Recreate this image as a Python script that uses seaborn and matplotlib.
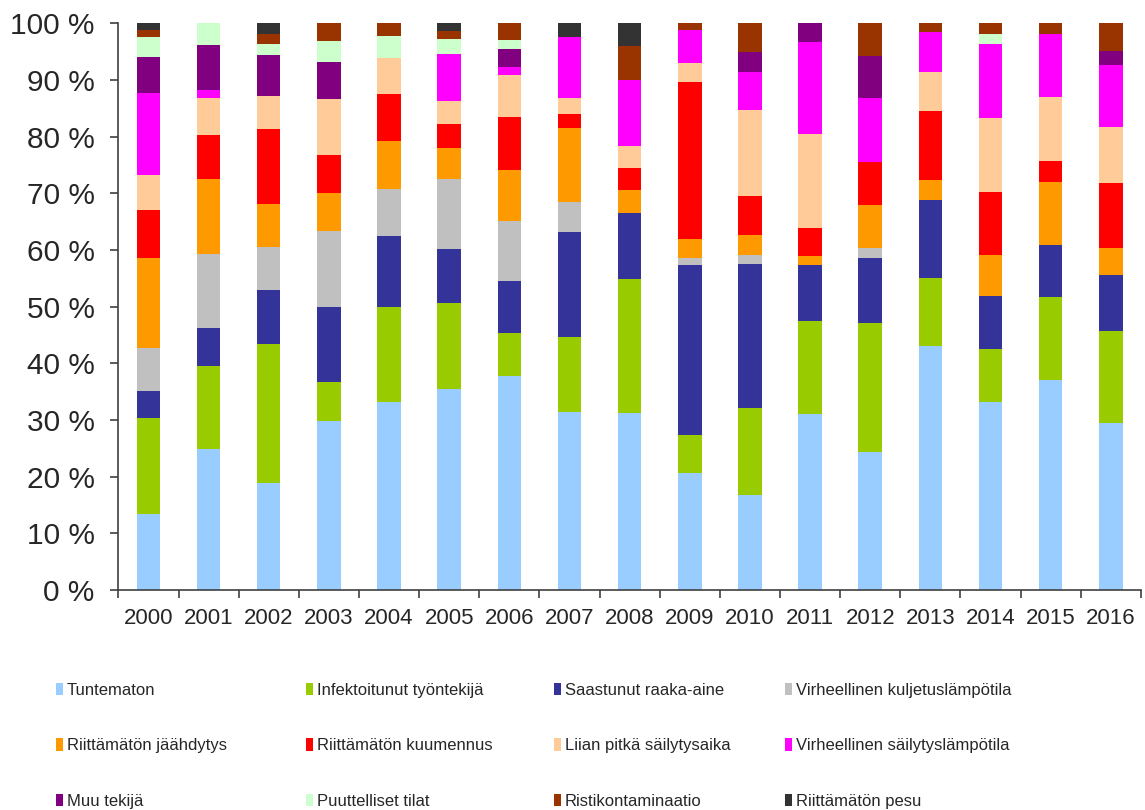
import matplotlib
matplotlib.use("Agg")
import matplotlib.pyplot as plt
from matplotlib.patches import Patch
import pandas as pd
import seaborn as sns

years = [str(y) for y in range(2000, 2017)]

# osuudet (%) vuosittain, luettu kuvasta
tuntematon = [13.4, 24.9, 18.9, 29.9, 33.2, 35.5, 37.8, 31.5, 31.3, 20.7, 16.8, 31.1, 24.4, 43.1, 33.2, 37.1, 29.4]
infektoitunut = [17.0, 14.5, 24.5, 6.8, 16.8, 15.2, 7.6, 13.1, 23.5, 6.7, 15.4, 16.3, 22.8, 11.9, 9.4, 14.7, 16.2]
saastunut = [4.8, 6.7, 9.6, 13.3, 12.5, 9.4, 9.2, 18.5, 11.8, 29.9, 25.4, 9.9, 11.3, 13.9, 9.2, 9.2, 9.9]
virh_kuljetus = [7.5, 13.1, 7.5, 13.3, 8.2, 12.4, 10.6, 5.3, 0, 1.2, 1.5, 0, 1.8, 0, 0, 0, 0]
jaahdytys = [15.8, 13.1, 7.6, 6.7, 8.5, 5.5, 9.0, 13.1, 3.9, 3.4, 3.5, 1.6, 7.6, 3.4, 7.4, 11.0, 4.8]
kuumennus = [8.5, 7.9, 13.2, 6.8, 8.3, 4.2, 9.2, 2.5, 3.9, 27.7, 7.0, 4.9, 7.6, 12.2, 11.0, 3.8, 11.3]
sailytysaika = [6.2, 6.5, 5.8, 9.8, 6.3, 4.1, 7.5, 2.8, 3.9, 3.4, 15.1, 16.6, 0, 6.9, 13.1, 11.2, 9.9]
virh_sailytys = [14.5, 1.3, 0, 0, 0, 8.2, 1.4, 10.7, 11.7, 5.8, 6.7, 16.3, 11.3, 7.0, 13.0, 11.2, 10.9]
muu = [6.3, 8.0, 7.3, 6.6, 0, 0, 3.1, 0, 0, 0, 3.5, 3.3, 7.4, 0, 0, 0, 2.6]
puutteelliset = [3.5, 3.8, 1.9, 3.6, 4.0, 2.7, 1.6, 0, 0, 0, 0, 0, 0, 0, 1.8, 0, 0]
ristikontaminaatio = [1.3, 0, 1.8, 3.2, 2.2, 1.5, 3.0, 0, 6.0, 1.2, 5.1, 0, 5.8, 1.6, 1.9, 1.9, 4.8]
pesu = [1.2, 0, 1.9, 0, 0, 1.3, 0, 2.5, 4.0, 0, 0, 0, 0, 0, 0, 0, 0]

labels = ["Tuntematon", "Infektoitunut työntekijä", "Saastunut raaka-aine",
          "Virheellinen kuljetuslämpötila", "Riittämätön jäähdytys",
          "Riittämätön kuumennus", "Liian pitkä säilytysaika",
          "Virheellinen säilytyslämpötila", "Muu tekijä", "Puuttelliset tilat",
          "Ristikontaminaatio", "Riittämätön pesu"]
colors = ["#99CCFF", "#99CC00", "#333399", "#C0C0C0", "#FF9900", "#FF0000",
          "#FFCC99", "#FF00FF", "#800080", "#CCFFCC", "#993300", "#333333"]

df = pd.DataFrame([tuntematon, infektoitunut, saastunut, virh_kuljetus, jaahdytys,
                   kuumennus, sailytysaika, virh_sailytys, muu, puutteelliset,
                   ristikontaminaatio, pesu], index=labels, columns=years).T
df = df.div(df.sum(axis=1), axis=0) * 100
cum = df.cumsum(axis=1)

sns.set_style("ticks")
plt.rcParams["font.family"] = ["Liberation Sans", "DejaVu Sans"]

fig = plt.figure(figsize=(11.45, 8.1), dpi=100)
ax = fig.add_axes([0.1034, 0.2716, 0.8930, 0.6996])

# pinotut pylväät: piirretään kumulatiiviset summat ylhäältä alas
for name, col in reversed(list(zip(labels, colors))):
    sns.barplot(x=years, y=cum[name].values, color=col, saturation=1,
                width=0.39, linewidth=0, ax=ax)

ax.set_xlim(-0.5, len(years) - 0.5)
ax.set_ylim(0, 100)
ax.set_yticks(range(0, 101, 10))
ax.set_yticklabels([f"{v} %" for v in range(0, 101, 10)], fontsize=21.5)
ax.set_xticks(range(len(years)))
ax.set_xticklabels(years, fontsize=16)
ax.set_xticks([i + 0.5 for i in range(-1, len(years))], minor=True)
ax.tick_params(axis="x", which="major", length=0, pad=13)
ax.tick_params(axis="x", which="minor", length=6, width=1.2, color="#404040")
ax.tick_params(axis="y", length=6, width=1.2, color="#404040", pad=11)
ax.set_xlabel("")
ax.set_ylabel("")
sns.despine(ax=ax)
for s in ["left", "bottom"]:
    ax.spines[s].set_color("#404040")
    ax.spines[s].set_linewidth(1.2)

# selite: neljä saraketta, kolme riviä
col_x = [56, 306, 554, 785]
for c in range(4):
    idx = [c, c + 4, c + 8]
    handles = [Patch(facecolor=colors[i], edgecolor="none") for i in idx]
    fig.legend(handles, [labels[i] for i in idx], loc="upper left",
               bbox_to_anchor=(col_x[c] / 1145, 1 - 683 / 810),
               frameon=False, fontsize=12, handlelength=0.4, handleheight=0.75,
               handletextpad=0.25, labelspacing=2.42, borderpad=0, borderaxespad=0)

fig.savefig("out.png", dpi=100)
